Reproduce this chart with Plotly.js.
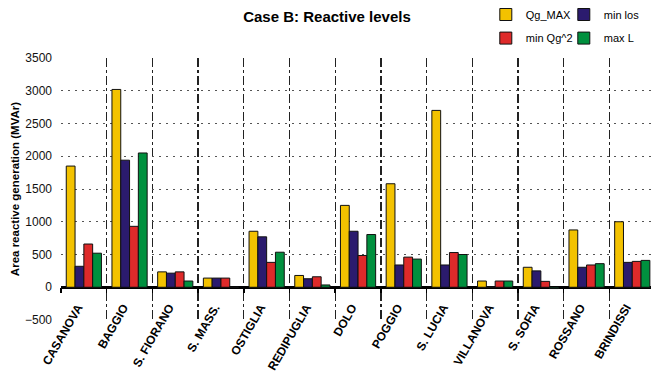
<!DOCTYPE html>
<html><head><meta charset="utf-8">
<script src="https://cdn.plot.ly/plotly-3.0.1.min.js"></script>
<style>html,body{margin:0;padding:0;background:#fff}#chart{width:654px;height:373px}</style>
</head><body><div id="chart"></div>
<script>
const categories = ['CASANOVA','BAGGIO','S. FIORANO','S. MASS.','OSTIGLIA','REDIPUGLIA','DOLO','POGGIO','S. LUCIA','VILLANOVA','S. SOFIA','ROSSANO','BRINDISSI'];
const qgMax  = [1850, 3020, 235, 140, 855, 180, 1250, 1580, 2700, 95, 305, 875, 1000];
const minLos = [320, 1940, 215, 140, 770, 130, 855, 340, 340, 5, 250, 305, 380];
const minQg2 = [660, 930, 235, 140, 380, 160, 485, 460, 530, 95, 90, 340, 395];
const maxL   = [520, 2050, 95, 0, 535, 35, 805, 430, 500, 95, -20, 360, 410];
const seriesNames = ['Qg_MAX', 'min los', 'min Qg^2', 'max L'];
const seriesColors = ['#F3C200', '#2B1B6E', '#DE2A2A', '#00903E'];
const seriesValues = [qgMax, minLos, minQg2, maxL];
const seriesLegend = ['legend', 'legend', 'legend2', 'legend2'];
const seriesLegendWidth = [33, 45, 33, 45];

const traces = seriesValues.map((vals, i) => ({
  type: 'bar',
  name: seriesNames[i],
  x: categories,
  y: vals,
  legend: seriesLegend[i],
  legendwidth: seriesLegendWidth[i],
  marker: {color: seriesColors[i], line: {color: '#111', width: 1}},
  hoverinfo: 'x+y+name'
}));

const FONT = 'Arial, "Liberation Sans", sans-serif';
const legendBase = {
  orientation: 'h', xanchor: 'left', yanchor: 'middle',
  font: {family: FONT, size: 11, color: '#000'},
  bgcolor: 'rgba(0,0,0,0)', itemwidth: 30, traceorder: 'normal'
};

const layout = {
  width: 654, height: 373,
  margin: {l: 61, r: 0, t: 55, b: 53},
  paper_bgcolor: '#fff', plot_bgcolor: '#fff',
  font: {family: FONT, size: 11, color: '#000'},
  title: {text: '<b>Case B: Reactive levels</b>', x: 0.5, xanchor: 'center', y: 0.955, yanchor: 'middle',
          font: {family: FONT, size: 15, color: '#000'}},
  barmode: 'group', bargap: 0.23, bargroupgap: 0,
  showlegend: true,
  legend: Object.assign({}, legendBase, {x: 0.72, y: 1.166}),
  legend2: Object.assign({}, legendBase, {x: 0.72, y: 1.076}),
  xaxis: {
    type: 'category', range: [-0.5, 12.41], tickson: 'boundaries',
    ticks: 'outside', ticklen: 5, tickwidth: 1.5, tickcolor: '#000',
    showgrid: true, gridcolor: '#222', griddash: 'dashdot', gridwidth: 1.3,
    anchor: 'free', position: 0.125, tickangle: -60,
    ticklabelstandoff: 10, ticklabelshift: -6,
    tickfont: {family: FONT, size: 12, color: '#000', weight: 'bold'},
    showline: false, zeroline: false, automargin: false
  },
  yaxis: {
    range: [-500, 3500], dtick: 500, tick0: 0,
    showgrid: true, gridcolor: '#555', griddash: '2px,5px', gridwidth: 1,
    zeroline: true, zerolinecolor: '#000', zerolinewidth: 2.5,
    ticks: '', ticklabelstandoff: 8, showline: false, automargin: false,
    tickfont: {family: FONT, size: 12, color: '#111'},
    title: {text: '<b>Area reactive generation (MVAr)</b>', font: {family: FONT, size: 11.5, color: '#000'}, standoff: 2}
  }
};

Plotly.newPlot('chart', traces, layout, {displayModeBar: false, staticPlot: true});
</script>
</body></html>
